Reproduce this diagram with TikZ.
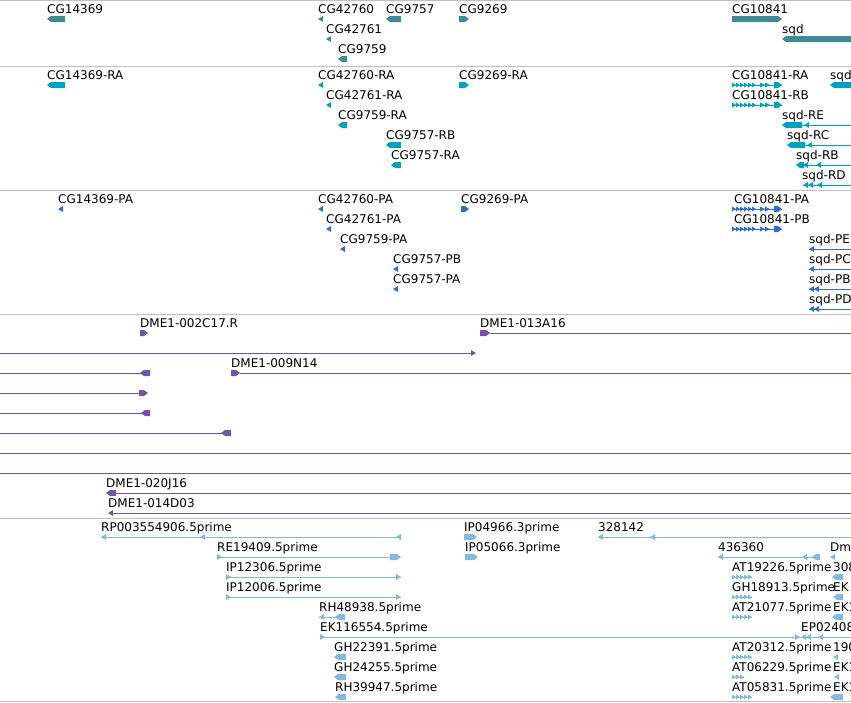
\documentclass[tikz,border=0pt]{standalone}
\usepackage{fontspec}
\setmainfont{DejaVu Sans}
\definecolor{cgene}{RGB}{64,140,145}
\definecolor{ctx}{RGB}{0,160,192}
\definecolor{cprot}{RGB}{51,108,204}
\definecolor{cpur}{RGB}{112,86,166}
\definecolor{clb}{RGB}{132,186,224}
\definecolor{csep}{RGB}{192,192,192}
\tikzset{
  lbl/.style={font=\fontsize{12}{14}\selectfont, inner sep=0pt, anchor=base west, text=black},
  sepline/.style={draw=csep, line width=1pt},
  thin/.style={line width=1pt}
}
% label
\newcommand\lab[4]{\node[lbl] (#1) at (#2,#3) {#4};}
% block pointing left / right: color, x1, x2, yc
\newcommand\bL[4]{\fill[#1] (#2,#4) -- ({#2+4},{#4-3}) -- (#3,{#4-3}) -- (#3,{#4+3}) -- ({#2+4},{#4+3}) -- cycle;}
\newcommand\bR[4]{\fill[#1] (#3,#4) -- ({#3-4},{#4-3}) -- (#2,{#4-3}) -- (#2,{#4+3}) -- ({#3-4},{#4+3}) -- cycle;}
% small arrowheads: color, tip x, yc
\newcommand\hL[3]{\fill[#1] (#2,#3) -- ({#2+5},{#3-3}) -- ({#2+5},{#3+3}) -- cycle;}
\newcommand\hR[3]{\fill[#1] (#2,#3) -- ({#2-5},{#3-3}) -- ({#2-5},{#3+3}) -- cycle;}
% thin line: color, x1, x2, y
\newcommand\tline[4]{\draw[#1,thin] (#2,#4) -- (#3,#4);}
% exon pattern (long): color, x, y
\newcommand\exonA[3]{%
  \draw[#1,thin] (#2,#3) -- ({#2+50},#3);
  \foreach \d in {4,8,12,16,20,24} {\fill[#1] ({#2+\d},#3) -- ({#2+\d-4},{#3-2.5}) -- ({#2+\d-4},{#3+2.5}) -- cycle;}
  \foreach \d in {33,38} {\fill[#1] ({#2+\d},#3) -- ({#2+\d-5},{#3-2.5}) -- ({#2+\d-5},{#3+2.5}) -- cycle;}
  \fill[#1] ({#2+50},#3) -- ({#2+46},{#3-3}) -- ({#2+42},{#3-3}) -- ({#2+42},{#3+3}) -- ({#2+46},{#3+3}) -- cycle;}
% exon pattern (short): color, x, y, last offset
\newcommand\exonB[4]{%
  \draw[#1,thin] (#2,#3) -- ({#2+#4},#3);
  \foreach \d in {4,8,...,#4} {\fill[#1] ({#2+\d},#3) -- ({#2+\d-4},{#3-2.5}) -- ({#2+\d-4},{#3+2.5}) -- cycle;}}
\begin{document}
\begin{tikzpicture}[x=1pt,y=-1pt]
\useasboundingbox (0,0) rectangle (851,702);
\fill[white] (0,0) rectangle (851,702);
\clip (0,0) rectangle (851,702);
% separators
\foreach \yy in {0.5,66,190,314,518,701} {\draw[sepline] (0,\yy) -- (851,\yy);}

% ---------- Track 1: genes ----------
\lab{g1}{47}{13}{CG14369} \bL{cgene}{47}{65}{19}
\lab{g2}{318}{13}{CG42760} \hL{cgene}{318}{19}
\lab{g3}{386}{13}{CG9757} \bL{cgene}{386}{401}{19}
\lab{g4}{459}{13}{CG9269} \bR{cgene}{459}{469}{19}
\lab{g5}{732}{13}{CG10841} \bR{cgene}{732}{782}{19}
\lab{g6}{326}{33}{CG42761} \hL{cgene}{326}{39}
\lab{g7}{782}{33}{sqd} \bL{cgene}{782}{856}{39}
\lab{g8}{338}{53}{CG9759} \bL{cgene}{338}{347}{59}

% ---------- Track 2: transcripts ----------
\lab{t1}{47}{79}{CG14369-RA} \bL{ctx}{47}{65}{85}
\lab{t2}{318}{79}{CG42760-RA} \hL{ctx}{318}{85}
\lab{t3}{459}{79}{CG9269-RA} \bR{ctx}{459}{469}{85}
\lab{t4}{732}{79}{CG10841-RA} \exonA{ctx}{732}{85}
\lab{t5}{830}{79}{sqd} \bL{ctx}{830}{856}{85}
\lab{t6}{326}{99}{CG42761-RA} \hL{ctx}{326}{105}
\lab{t7}{732}{99}{CG10841-RB} \exonA{ctx}{732}{105}
\lab{t8}{338}{119}{CG9759-RA} \bL{ctx}{338}{347}{125}
\lab{t9}{782}{119}{sqd-RE} \bL{ctx}{782}{802}{125} \tline{ctx}{802}{856}{125} \hL{ctx}{804}{125}
\lab{t10}{386}{139}{CG9757-RB} \bL{ctx}{386}{401}{145}
\lab{t11}{787}{139}{sqd-RC} \bL{ctx}{787}{805}{145} \tline{ctx}{805}{856}{145} \hL{ctx}{807}{145}
\lab{t12}{391}{159}{CG9757-RA} \bL{ctx}{391}{401}{165}
\lab{t13}{796}{159}{sqd-RB} \bL{ctx}{796}{804}{165} \hL{ctx}{803}{165} \tline{ctx}{804}{856}{165} \hL{ctx}{816}{165}
\lab{t14}{802}{179}{sqd-RD} \hL{ctx}{803}{185} \hL{ctx}{808}{185} \tline{ctx}{803}{856}{185} \hL{ctx}{817}{185}

% ---------- Track 3: proteins ----------
\lab{p1}{58}{203}{CG14369-PA} \hL{cprot}{58}{209}
\lab{p2}{318}{203}{CG42760-PA} \hL{cprot}{318}{209}
\lab{p3}{461}{203}{CG9269-PA} \bR{cprot}{461}{469}{209}
\lab{p4}{734}{203}{CG10841-PA} \exonA{cprot}{732}{209}
\lab{p5}{326}{223}{CG42761-PA} \hL{cprot}{326}{229}
\lab{p6}{734}{223}{CG10841-PB} \exonA{cprot}{732}{229}
\lab{p7}{340}{243}{CG9759-PA} \hL{cprot}{340}{249}
\lab{p8}{809}{243}{sqd-PE} \hL{cprot}{809}{249} \tline{cprot}{809}{856}{249}
\lab{p9}{393}{263}{CG9757-PB} \hL{cprot}{393}{269}
\lab{p10}{809}{263}{sqd-PC} \hL{cprot}{809}{269} \tline{cprot}{809}{856}{269}
\lab{p11}{393}{283}{CG9757-PA} \hL{cprot}{393}{289}
\lab{p12}{809}{283}{sqd-PB} \hL{cprot}{809}{289} \hL{cprot}{814}{289} \tline{cprot}{809}{856}{289}
\lab{p13}{809}{303}{sqd-PD} \hL{cprot}{809}{309} \hL{cprot}{814}{309} \tline{cprot}{809}{856}{309}

% ---------- Track 4: clones ----------
\lab{c1}{140}{327}{DME1-002C17.R} \bR{cpur}{140}{148}{333}
\lab{c2}{480}{327}{DME1-013A16} \bR{cpur}{480}{490}{333} \tline{cpur}{490}{856}{333}
\tline{cpur}{-5}{471}{353} \hR{cpur}{476}{353}
\lab{c3}{231}{367}{DME1-009N14} \bR{cpur}{231}{240}{373} \tline{cpur}{240}{856}{373}
\tline{cpur}{-5}{141}{373} \bL{cpur}{140}{150}{373}
\tline{cpur}{-5}{140}{393} \bR{cpur}{139}{148}{393}
\tline{cpur}{-5}{142}{413} \bL{cpur}{141}{150}{413}
\tline{cpur}{-5}{222}{433} \bL{cpur}{221}{231}{433}
\tline{cpur}{-5}{856}{453}
\tline{cpur}{-5}{856}{473}
\lab{c4}{106}{487}{DME1-020J16} \bL{cpur}{106}{116}{493} \tline{cpur}{116}{856}{493}
\lab{c5}{108}{507}{DME1-014D03} \hL{cpur}{108}{513} \tline{cpur}{110}{856}{513}

% ---------- Track 5: ESTs ----------
\lab{e1}{101}{531}{RP003554906.5prime} \tline{clb}{101}{401}{537} \hL{clb}{101}{537} \hL{clb}{200}{537} \hL{clb}{396}{537}
\lab{e2}{464}{531}{IP04966.3prime} \bR{clb}{464}{477}{537}
\lab{e3}{598}{531}{328142} \tline{clb}{598}{856}{537} \hL{clb}{598}{537} \hL{clb}{650}{537}
\lab{e4}{217}{551}{RE19409.5prime} \tline{clb}{217}{395}{557} \hR{clb}{222}{557} \bR{clb}{390}{401}{557}
\lab{e5}{465}{551}{IP05066.3prime} \bR{clb}{465}{478}{557}
\lab{e6}{718}{551}{436360} \tline{clb}{718}{815}{557} \hL{clb}{718}{557} \hL{clb}{802}{557} \bL{clb}{812}{820}{557}
\lab{e7}{830}{551}{Dm} \hL{clb}{830}{557}
\lab{e8}{226}{571}{IP12306.5prime} \tline{clb}{226}{401}{577} \hR{clb}{231}{577} \hR{clb}{401}{577}
\lab{e9}{732}{571}{AT19226.5prime} \exonB{clb}{732}{577}{20}
\lab{e10}{833}{571}{308} \bL{clb}{832}{843}{577}
\lab{e11}{226}{591}{IP12006.5prime} \tline{clb}{226}{401}{597} \hR{clb}{231}{597} \hR{clb}{401}{597}
\lab{e12}{732}{591}{GH18913.5prime} \exonB{clb}{732}{597}{20}
\lab{e13}{833}{591}{EK} \bL{clb}{833}{843}{597}
\lab{e14}{319}{611}{RH48938.5prime} \tline{clb}{319}{340}{617} \hL{clb}{319}{617} \bL{clb}{335}{345}{617}
\lab{e15}{732}{611}{AT21077.5prime} \exonB{clb}{732}{617}{20}
\lab{e16}{833}{611}{EK1} \bL{clb}{832}{843}{617}
\lab{e17}{320}{631}{EK116554.5prime} \tline{clb}{320}{856}{637} \hR{clb}{325}{637}
\lab{e18}{801}{631}{EP02408} \hR{clb}{800}{637} \hL{clb}{801}{637} \hL{clb}{806}{637} \hL{clb}{818}{637}
\lab{e19}{334}{651}{GH22391.5prime} \bL{clb}{334}{346}{657}
\lab{e20}{732}{651}{AT20312.5prime} \exonB{clb}{732}{657}{20}
\lab{e21}{833}{651}{190} \hL{clb}{833}{657}
\lab{e22}{334}{671}{GH24255.5prime} \bL{clb}{334}{346}{677}
\lab{e23}{732}{671}{AT06229.5prime} \exonB{clb}{732}{677}{12}
\lab{e24}{833}{671}{EK1} \hL{clb}{834}{677}
\lab{e25}{335}{691}{RH39947.5prime} \bL{clb}{335}{346}{697}
\lab{e26}{732}{691}{AT05831.5prime} \exonB{clb}{732}{697}{20}
\lab{e27}{833}{691}{EK1} \bL{clb}{830}{843}{697}
\end{tikzpicture}
\end{document}
